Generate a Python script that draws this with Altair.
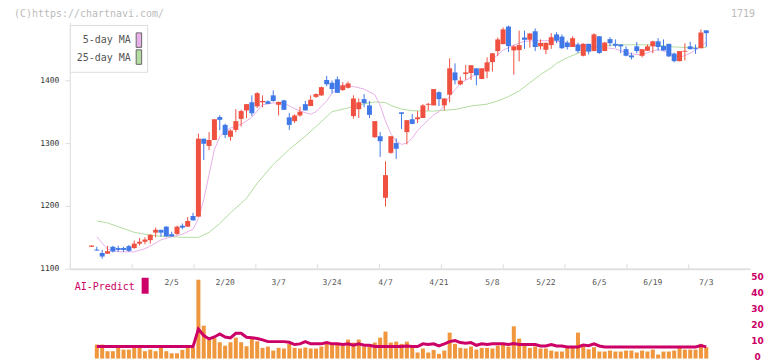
import altair as alt
import pandas as pd

# ---------------- data ----------------
opens = [1135, 1130.5, 1125, 1124, 1135, 1133, 1133, 1136, 1133, 1140,
         1143, 1145.5, 1157.5, 1162, 1167, 1155, 1155.5, 1168.5, 1167, 1184,
         1183, 1307, 1295.5, 1305, 1341.5, 1329, 1310, 1321, 1338.5, 1352,
         1365, 1358.5, 1365, 1366.5, 1376, 1361, 1368, 1341, 1335, 1344,
         1362, 1359, 1373.5, 1376, 1400.5, 1396, 1401.5, 1384.5, 1388, 1343,
         1354, 1370, 1360, 1309.5, 1311, 1213, 1284.5, 1300, 1349, 1317.5,
         1338, 1338, 1340, 1361, 1360, 1381, 1360, 1377, 1412.5, 1393.5,
         1410, 1411.5, 1419, 1402, 1414, 1429, 1446.5, 1457.5, 1485.5, 1447.5,
         1448, 1468, 1464.5, 1478, 1454, 1448.5, 1456, 1473, 1469.5, 1460,
         1453, 1457, 1439, 1458, 1446.5, 1470, 1446.5, 1465.5, 1458, 1457,
         1449.5, 1439.5, 1454, 1439, 1447, 1454, 1462, 1454.5, 1458, 1442.5,
         1430.5, 1445.5, 1454, 1451, 1451, 1479.5]
highs = [1137, 1135, 1130, 1136.5, 1136.5, 1136.5, 1135, 1138, 1145, 1149,
         1150, 1155, 1165.5, 1162, 1168, 1159, 1168.5, 1172, 1182.5, 1189,
         1315, 1307, 1317.5, 1338, 1344.5, 1331, 1322, 1354, 1353, 1362,
         1376, 1381, 1376, 1368, 1384, 1366, 1369, 1348, 1346, 1358,
         1367, 1376, 1379, 1390, 1407, 1399.5, 1406, 1397, 1398, 1376,
         1371, 1378, 1367, 1335, 1317.5, 1271, 1311, 1307.5, 1349, 1337,
         1346.5, 1351, 1362, 1364, 1386, 1382.5, 1371.5, 1435, 1427, 1406,
         1424, 1424, 1419, 1419, 1436.5, 1443, 1468, 1484, 1487, 1456,
         1479, 1479, 1474.5, 1482.5, 1465, 1460, 1475, 1476.5, 1473, 1463,
         1470, 1460, 1459, 1458, 1475, 1470, 1461, 1468.5, 1465, 1457,
         1454, 1444, 1461, 1449.5, 1457, 1463, 1467, 1465, 1458, 1444,
         1446.5, 1459, 1461, 1457, 1481, 1479.5]
lows = [1135, 1128.5, 1116, 1124, 1126, 1127, 1127, 1127, 1132, 1137,
        1139, 1140, 1150, 1151, 1151, 1151, 1154, 1163, 1167, 1177,
        1183, 1273, 1289, 1305, 1320.5, 1308, 1304, 1317.5, 1326.5, 1340,
        1343, 1356, 1357, 1362, 1366, 1344, 1353, 1321, 1332, 1342,
        1352, 1359, 1372, 1375, 1390.5, 1379, 1380, 1383, 1387, 1339,
        1340, 1357, 1340, 1308, 1278, 1199, 1283, 1275, 1322.5, 1298,
        1330, 1332, 1340, 1352, 1360, 1359, 1352, 1365, 1393.5, 1392,
        1400.5, 1400.5, 1392, 1402, 1403.5, 1414, 1439, 1457.5, 1445, 1409,
        1430, 1450, 1452, 1446.5, 1449, 1441.5, 1450, 1459, 1450, 1449,
        1453, 1443.5, 1438, 1441, 1446.5, 1442, 1446.5, 1454, 1452, 1443,
        1438, 1433, 1443, 1436.5, 1447, 1443, 1447, 1447, 1437, 1428.5,
        1430, 1431.5, 1449, 1442, 1451, 1453]
closes = [1137, 1129, 1119.5, 1128, 1127.5, 1130, 1130, 1128.5, 1140, 1143,
          1146.5, 1154, 1162, 1157.5, 1151.5, 1151.5, 1167, 1165.5, 1176, 1177,
          1307, 1299, 1305, 1338, 1337, 1313, 1320, 1335, 1351, 1362,
          1347.5, 1379.5, 1367, 1362.5, 1367, 1365.5, 1353, 1329, 1344, 1350,
          1352, 1369, 1378, 1389, 1393.5, 1386, 1380, 1392, 1395, 1371,
          1365, 1363.5, 1345, 1335, 1303, 1249, 1311, 1291, 1346.5, 1336.5,
          1330.5, 1341, 1360, 1362.5, 1386, 1370, 1371, 1419, 1400, 1399.5,
          1412.5, 1424, 1408, 1419, 1428.5, 1443, 1465, 1481, 1454.5, 1454,
          1456, 1464.5, 1474.5, 1453, 1459.5, 1459.5, 1468.5, 1463, 1451, 1453,
          1467, 1446.5, 1458, 1445.5, 1473, 1443.5, 1460, 1459, 1455, 1454,
          1439, 1436.5, 1446.5, 1449.5, 1454, 1462, 1453, 1447.5, 1438, 1430.5,
          1446.5, 1447, 1449.5, 1449.5, 1476, 1475]

ma5_idx = [1, 3, 5, 8, 10, 11, 13, 15, 17, 19, 20, 21, 22, 23, 24, 25, 26, 28, 30, 31,
           32, 34, 36, 37, 39, 41, 42, 44, 45, 47, 49, 51, 53, 54, 55, 56, 57, 58, 59, 60,
           61, 63, 64, 65, 66, 67, 68, 69, 71, 73, 75, 77, 79, 81, 83, 86, 88, 90, 92, 94,
           96, 98, 99, 101, 103, 104, 106, 108, 110, 112, 113, 114, 115]
ma5_val = [1151, 1131, 1127, 1127, 1132, 1136, 1146, 1151, 1155, 1163, 1180, 1210, 1250, 1290, 1310, 1319, 1324, 1330, 1341, 1351,
           1361, 1364, 1364, 1359, 1351, 1346, 1350, 1367, 1380, 1392, 1390, 1386, 1377, 1360, 1335, 1315, 1303, 1298, 1300, 1308,
           1320, 1337, 1345, 1350, 1360, 1375, 1385, 1395, 1405, 1415, 1433, 1448, 1456, 1462, 1463, 1463, 1461, 1457, 1454, 1454,
           1452, 1450, 1447, 1442, 1440, 1444, 1449, 1444, 1436, 1443, 1448, 1455, 1460]

ma25_idx = [1, 3, 5, 8, 10, 12, 15, 17, 20, 22, 24, 26, 29, 31, 34, 37, 40, 43, 45, 46,
            48, 51, 53, 55, 56, 58, 60, 64, 68, 71, 74, 76, 78, 80, 82, 84, 86, 87, 89, 91,
            93, 95, 98, 101, 104, 107, 109, 112, 115]
ma25_val = [1176, 1173, 1167, 1158, 1155, 1152.5, 1151, 1150, 1150, 1158, 1172, 1189, 1212, 1236, 1266, 1290, 1311, 1334, 1350, 1352,
            1356, 1362.5, 1365.5, 1364.5, 1360, 1354, 1351.5, 1351, 1353.5, 1359, 1362, 1367, 1374, 1383, 1396, 1409, 1420, 1427, 1436, 1443,
            1450, 1454, 1456.5, 1456.5, 1456.5, 1455, 1453, 1452, 1452]

volume = [8.75, 8.75, 4.6, 4.6, 6.7, 5.6, 5.6, 6.7, 6.7, 4.6,
          5.6, 4.6, 6.7, 4.6, 3.3, 3.3, 5.4, 6.7, 6.7, 49.4,
          20.6, 11.7, 12.7, 10.2, 8.1, 10.2, 13.1, 10.2, 7.7, 12.5,
          10.8, 6.7, 7.5, 5.0, 6.7, 6.3, 9.2, 6.7, 6.3, 6.9,
          6.3, 6.3, 7.5, 9.2, 9.2, 8.75, 7.9, 11.9, 10.0, 11.9,
          7.5, 7.5, 10.0, 13.1, 16.9, 10.0, 10.6, 9.2, 10.6, 7.5,
          3.8, 6.3, 3.8, 5.4, 2.9, 5.0, 16.25, 9.2, 6.7, 6.3,
          7.5, 5.6, 6.7, 6.7, 6.3, 8.1, 8.5, 7.5, 20.2, 12.5,
          7.9, 6.7, 7.5, 6.3, 6.3, 5.0, 4.4, 4.4, 6.7, 6.7,
          16.25, 7.5, 5.8, 7.1, 4.4, 4.4, 5.0, 4.4, 4.4, 5.0,
          5.0, 3.8, 5.0, 4.4, 5.6, 2.5, 4.4, 4.4, 5.0, 6.7,
          5.6, 5.6, 5.6, 9.2, 7.1]           # index 1 .. 115

ai_predict = [7.5, 7.5, 7.5, 7.5, 7.5, 7.5, 7.5, 7.5, 7.5, 7.5,
              7.5, 7.5, 7.5, 7.5, 7.5, 7.5, 7.5, 7.5, 7.5, 18.5,
              14.4, 12.3, 13.5, 15.4, 13.5, 12.9, 15.8, 15.8, 13.3, 13.0,
              12.6, 11.7, 10.6, 10.6, 10.6, 10.6, 10.2, 8.75, 9.2, 10.6,
              9.2, 9.2, 9.2, 10.0, 9.2, 9.2, 8.75, 9.2, 8.3, 9.2,
              8.3, 8.3, 7.5, 7.5, 7.5, 7.5, 7.5, 7.5, 7.9, 7.5,
              7.5, 9.2, 8.75, 9.2, 7.9, 9.2, 10.6, 11.25, 10.0, 9.6,
              10.0, 8.3, 9.2, 8.75, 9.2, 9.2, 9.2, 8.75, 9.4, 8.75,
              8.75, 8.75, 8.75, 7.9, 7.9, 8.75, 7.9, 7.9, 7.3, 7.3,
              7.3, 8.5, 8.1, 9.2, 7.9, 7.3, 7.3, 7.3, 7.3, 7.3,
              7.3, 7.3, 7.3, 7.3, 7.3, 7.3, 7.3, 7.3, 7.3, 7.3,
              7.3, 7.3, 7.3, 8.1, 7.3]         # index 1 .. 115

date_idx = [15, 25, 35, 45, 55, 65, 75, 85, 95, 105, 115]
date_txt = ["2/5", "2/20", "3/7", "3/24", "4/7", "4/21", "5/8", "5/22", "6/5", "6/19", "7/3"]
price_ticks = [1100, 1200, 1300, 1400]
vol_ticks = [0, 10, 20, 30, 40, 50]

# ---------------- styling ----------------
RED = "#f05040"
BLUE = "#4078e8"
ORANGE = "#f0963c"
CRIMSON = "#cc0066"
PINK = "#e8b0e8"
GREEN = "#b4dca0"
FONT = "DejaVu Sans Mono"

W = 682
TOP_H = 247
BOT_H = 90
PX_PER_DAY = 5.36
FIRST_X = 21.7
x_domain = [-FIRST_X / PX_PER_DAY, (W - FIRST_X) / PX_PER_DAY]
xs = alt.Scale(domain=x_domain, nice=False, zero=False, padding=0)
ps = alt.Scale(domain=[1100, 1100 + TOP_H / 0.63], nice=False, zero=False, padding=0)
vs = alt.Scale(domain=[0, BOT_H / 1.6], nice=False, zero=False, padding=0)
grid_vals = [x_domain[0] + k * (x_domain[1] - x_domain[0]) / 11 for k in range(12)]

cdf = pd.DataFrame({"i": list(range(len(opens))), "o": opens, "h": highs, "l": lows, "c": closes})
ma5_df = pd.DataFrame({"i": ma5_idx, "v": ma5_val})
ma25_df = pd.DataFrame({"i": ma25_idx, "v": ma25_val})
vdf = pd.DataFrame({"i": list(range(1, 1 + len(volume))), "v": volume, "a": ai_predict})
ddf = pd.DataFrame({"i": date_idx, "t": date_txt})
one = pd.DataFrame({"k": [0]})

col = alt.condition("datum.c >= datum.o", alt.value(RED), alt.value(BLUE))

price_axis = alt.Axis(values=price_ticks, tickSize=5, labelPadding=6, labelFont=FONT,
                      labelFontSize=8, labelColor="#333333", domainColor="#dddddd",
                      tickColor="#dddddd", grid=False, format="d", title=None)
X_top = alt.X("i:Q", scale=xs, axis=None)

ma25_ch = alt.Chart(ma25_df).mark_line(color=GREEN, strokeWidth=1).encode(
    x=X_top, y=alt.Y("v:Q", scale=ps, axis=price_axis, title=None))
ma5_ch = alt.Chart(ma5_df).mark_line(color=PINK, strokeWidth=1).encode(
    x=X_top, y=alt.Y("v:Q", scale=ps, axis=price_axis, title=None))
wick = alt.Chart(cdf).mark_rule(strokeWidth=1).encode(
    x=X_top, y=alt.Y("l:Q", scale=ps, axis=price_axis, title=None), y2="h:Q", color=col)
body = alt.Chart(cdf).mark_bar(size=5, orient="vertical").encode(
    x=X_top, y=alt.Y("o:Q", scale=ps, axis=price_axis, title=None), y2="c:Q", color=col)

box = alt.Chart(one).mark_rect(fill="white", stroke="#dddddd", strokeWidth=1).encode(
    x=alt.value(0.5), x2=alt.value(78), y=alt.value(3), y2=alt.value(50))
t1 = alt.Chart(one).mark_text(text="5-day MA", align="right", baseline="middle", font=FONT,
                              fontSize=10, color="#555555").encode(x=alt.value(61), y=alt.value(18))
t2 = alt.Chart(one).mark_text(text="25-day MA", align="right", baseline="middle", font=FONT,
                              fontSize=10, color="#555555").encode(x=alt.value(61), y=alt.value(35.5))
sw1 = alt.Chart(one).mark_rect(fill=PINK, stroke="#666666", strokeWidth=1).encode(
    x=alt.value(66.5), x2=alt.value(72), y=alt.value(10.5), y2=alt.value(25))
sw2 = alt.Chart(one).mark_rect(fill=GREEN, stroke="#666666", strokeWidth=1).encode(
    x=alt.value(66.5), x2=alt.value(72), y=alt.value(27.5), y2=alt.value(42))
header = alt.Chart(one).mark_text(text="(C)https://chartnavi.com/", align="left", baseline="middle",
                                  font=FONT, fontSize=10, color="#bbbbbb").encode(
    x=alt.value(-56), y=alt.value(-8.5))
code = alt.Chart(one).mark_text(text="1719", align="right", baseline="middle",
                                font=FONT, fontSize=10, color="#bbbbbb").encode(
    x=alt.value(687), y=alt.value(-8.5))

top = alt.layer(ma25_ch, ma5_ch, wick, body, box, t1, t2, sw1, sw2, header, code).properties(
    width=W, height=TOP_H)

x_axis = alt.Axis(orient="top", values=grid_vals, labels=False, tickSize=5,
                  tickColor="#dddddd", domainColor="#e0e0e0", domainWidth=2,
                  grid=False, title=None)
vol_axis = alt.Axis(orient="right", values=vol_ticks, domain=False, ticks=False, tickSize=0,
                    labelPadding=7, labelAlign="center", labelFont="DejaVu Sans", labelFontSize=9,
                    labelFontWeight="bold", labelColor=CRIMSON, labelOffset=-2,
                    grid=False, title=None)
X_bot = alt.X("i:Q", scale=xs, axis=x_axis, title=None)

bars = alt.Chart(vdf).mark_bar(size=4, color=ORANGE).encode(
    x=X_bot, y=alt.Y("v:Q", scale=vs, axis=vol_axis, title=None))
ai_line = alt.Chart(vdf).mark_line(color=CRIMSON, strokeWidth=3).encode(
    x=X_bot, y=alt.Y("a:Q", scale=vs, axis=vol_axis, title=None))
dates = alt.Chart(ddf).mark_text(font=FONT, fontSize=8, color="#555555", baseline="middle").encode(
    x=X_bot, y=alt.value(14), text="t:N")
ai_txt = alt.Chart(one).mark_text(text="AI-Predict", align="left", baseline="middle", font=FONT,
                                  fontSize=10, color=CRIMSON).encode(x=alt.value(5), y=alt.value(18))
ai_box = alt.Chart(one).mark_rect(fill=CRIMSON).encode(
    x=alt.value(72), x2=alt.value(79), y=alt.value(9), y2=alt.value(25))

bottom = alt.layer(bars, ai_line, dates, ai_txt, ai_box).properties(width=W, height=BOT_H)

chart = alt.vconcat(top, bottom, spacing=0, bounds="flush").properties(
    padding={"left": 6, "top": 0, "right": 0, "bottom": 0}
).configure_view(stroke=None)

chart.save("out.html", embed_options={"renderer": "svg", "actions": False})
